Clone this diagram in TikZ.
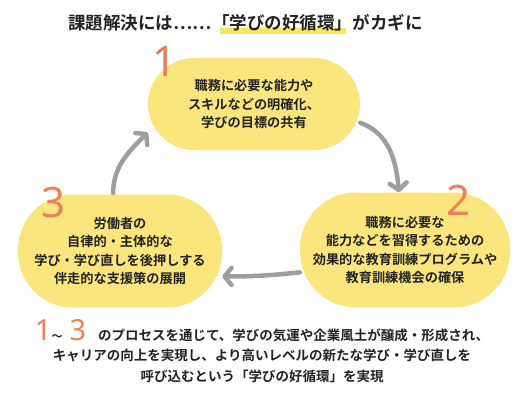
\documentclass[tikz,border=0pt]{standalone}
\usepackage{fontspec}
\setmainfont{Noto Sans CJK JP}
\newfontfamily\negrita{Noto Sans CJK JP Bold}
\newfontfamily\numfont{Noto Sans}
\usepackage{tikz}
\usetikzlibrary{positioning,arrows.meta,calc,backgrounds}
\definecolor{catAmarilloPastel}{HTML}{FBE67E}
\definecolor{catAmarilloMarca}{HTML}{FCE45C}
\definecolor{catNaranjaCoral}{HTML}{E9825C}
\definecolor{catGrisMedio}{HTML}{9E9E9E}
\definecolor{catTinta}{HTML}{222222}
\colorlet{colPaso}{catAmarilloPastel}
\colorlet{colMarca}{catAmarilloMarca}
\colorlet{colNumero}{catNaranjaCoral}
\colorlet{colFlecha}{catGrisMedio}
\colorlet{colTinta}{catTinta}
\newcommand{\cifra}[1]{{\numfont\fontsize{29}{29}\selectfont\color{colNumero}#1}}

\begin{document}
\begin{tikzpicture}[x=1pt, y=1pt,
        paso/.style={rectangle, fill=colPaso, align=center, inner sep=0pt,
            text=colTinta, font=\negrita\fontsize{13.2}{18.5}\selectfont},
        numero/.style={inner sep=0pt, text=colNumero, font=\numfont\fontsize{42}{42}\selectfont},
        flecha/.style={-{Straight Barb[length=7pt, width=17pt, round]}, line width=4.5pt,
            draw=colFlecha, line cap=round},
        titulo/.style={inner sep=0pt, text=colTinta, font=\negrita\fontsize{17.5}{21}\selectfont},
        resumen/.style={inner sep=0pt, align=center, text=colTinta,
            font=\negrita\fontsize{13.5}{20.5}\selectfont}
    ]
    \useasboundingbox (0,0) rectangle (525,408);

    % titulo con el marcador amarillo
    \node[titulo, anchor=base west] (tituloA) at (68, 378) {課題解決には……};
    \node[titulo, anchor=base west] (tituloB) at (tituloA.base east) {「学びの好循環」};
    \node[titulo, anchor=base west] (tituloC) at (tituloB.base east) {がカギに};

    % los tres pasos del ciclo
    \node[paso, minimum width=212pt, minimum height=92pt, rounded corners=46pt] (definir) at (254, 304)
        {職務に必要な能力や\\スキルなどの明確化、\\学びの目標の共有};
    \node[paso, minimum width=210pt, minimum height=115pt, rounded corners=56pt] (formar) at (405, 158)
        {職務に必要な\\能力などを習得するための\\効果的な教育訓練プログラムや\\教育訓練機会の確保};
    \node[paso, minimum width=204pt, minimum height=113pt, rounded corners=55pt] (apoyar) at (120, 157)
        {労働者の\\自律的・主体的な\\学び・学び直しを後押しする\\伴走的な支援策の展開};

    \node[numero] (num1) at (165, 346) {1};
    \node[numero] (num2) at (459, 208) {2};
    \node[numero] (num3) at (54, 205) {3};

    \begin{pgfonlayer}{background}
        \fill[colMarca] ($(tituloB.base west)+(8,-4)$) rectangle ($(tituloB.base east)+(-6,2)$);
        \draw[flecha] (definir.-10) to[out=-20, in=95] (formar.96);
        \draw[flecha] (formar.192) to[bend left=3] (apoyar.-14);
        \draw[flecha] (apoyar.97) to[out=90, in=-135] (definir.195);
    \end{pgfonlayer}

    % texto final
    \node[resumen, anchor=base] (resumen) at (262, 27)
        {\cifra{1}{\fontsize{11}{11}\selectfont ～}\hspace{7pt}\cifra{3}\hspace{12pt}のプロセスを通じて、学びの気運や企業風土が醸成・形成され、\\
         キャリアの向上を実現し、より高いレベルの新たな学び・学び直しを\\
         呼び込むという「学びの好循環」を実現};
\end{tikzpicture}
\end{document}
